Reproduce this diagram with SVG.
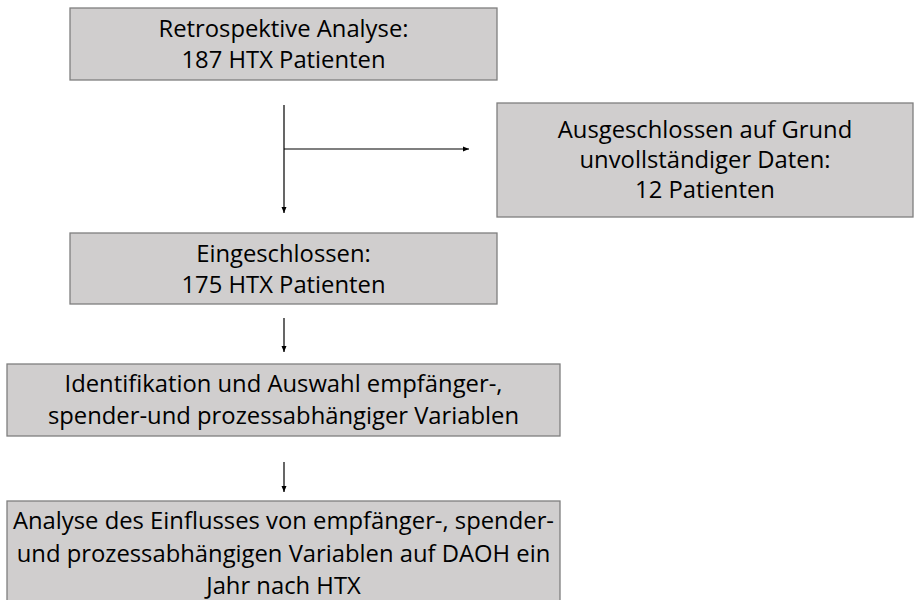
<svg xmlns="http://www.w3.org/2000/svg" width="914" height="600" viewBox="0 0 914 600">
  <defs>
    <marker id="arr" markerUnits="userSpaceOnUse" markerWidth="8" markerHeight="8" refX="6" refY="4" orient="auto">
      <path d="M0,1.5 L6,4 L0,6.5 Z" fill="#000"/>
    </marker>
    <style>
      .box { fill: #d0cece; stroke: #7f7f7f; stroke-width: 1.3; }
      .t { font-family: "Open Sans", "Liberation Sans", Arial, sans-serif; font-size: 23.8px; fill: #000; text-anchor: middle; }
      .c { stroke: #000; stroke-width: 1.2; fill: none; }
    </style>
  </defs>
  <rect width="914" height="600" fill="#fff"/>

  <g id="connectors">
    <line class="c" x1="284" y1="105" x2="284" y2="213" marker-end="url(#arr)"/>
    <line class="c" x1="284" y1="149" x2="469" y2="149" marker-end="url(#arr)"/>
    <line class="c" x1="284" y1="318" x2="284" y2="352" marker-end="url(#arr)"/>
    <line class="c" x1="284" y1="462" x2="284" y2="492" marker-end="url(#arr)"/>
  </g>

  <g id="n-retro">
    <rect class="box" x="70" y="8" width="427" height="72"/>
    <text class="t" x="283.5" y="37">Retrospektive Analyse:</text>
    <text class="t" x="283.5" y="68">187 HTX Patienten</text>
  </g>

  <g id="n-excluded">
    <rect class="box" x="497" y="103" width="416" height="114"/>
    <text class="t" x="705" y="138">Ausgeschlossen auf Grund</text>
    <text class="t" x="705" y="168">unvollständiger Daten:</text>
    <text class="t" x="705" y="198">12 Patienten</text>
  </g>

  <g id="n-included">
    <rect class="box" x="70" y="233" width="427" height="71"/>
    <text class="t" x="283.5" y="262">Eingeschlossen:</text>
    <text class="t" x="283.5" y="293">175 HTX Patienten</text>
  </g>

  <g id="n-ident">
    <rect class="box" x="7" y="364" width="553" height="72"/>
    <text class="t" x="283.5" y="392">Identifikation und Auswahl empfänger-,</text>
    <text class="t" x="283.5" y="424">spender-und prozessabhängiger Variablen</text>
  </g>

  <g id="n-analyse">
    <rect class="box" x="7" y="501" width="553" height="110"/>
    <text class="t" x="283.5" y="529">Analyse des Einflusses von empfänger-, spender-</text>
    <text class="t" x="283.5" y="562">und prozessabhängigen Variablen auf DAOH ein</text>
    <text class="t" x="283.5" y="594">Jahr nach HTX</text>
  </g>
</svg>
